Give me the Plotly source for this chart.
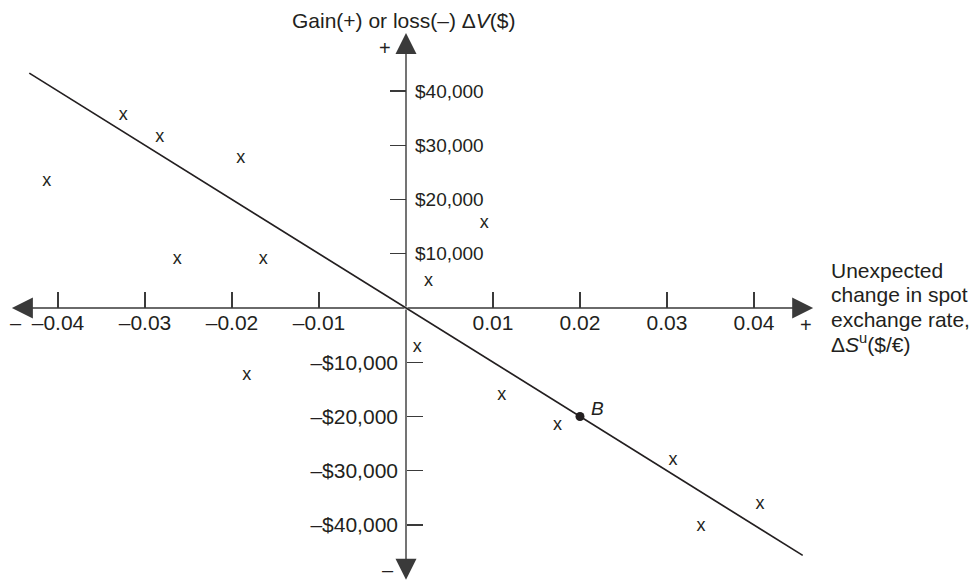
import plotly.graph_objects as go

# ---------------- data ----------------
obs_x = [-0.0413, -0.0325, -0.0283, -0.0190, -0.0263, -0.0164, -0.0183,
         0.0026, 0.0090, 0.0013, 0.0110, 0.0174, 0.0307, 0.0339, 0.0407]
obs_y = [23400, 35400, 31500, 27500, 9000, 9000, -12400,
         4800, 15500, -7200, -16200, -21600, -28200, -40200, -36200]

line_x = [-0.0433, 0.0456]
line_y = [43300, -45600]

b_x = [0.02]
b_y = [-20000]

x_tickvals = [-0.04, -0.03, -0.02, -0.01, 0.01, 0.02, 0.03, 0.04]
x_ticktext = ["–0.04", "–0.03", "–0.02", "–0.01", "0.01", "0.02", "0.03", "0.04"]

y_pos_tickvals = [10000, 20000, 30000, 40000]
y_pos_ticktext = ["$10,000", "$20,000", "$30,000", "$40,000"]
y_neg_tickvals = [-10000, -20000, -30000, -40000]
y_neg_ticktext = ["–$10,000", "–$20,000", "–$30,000", "–$40,000"]

# axis extents (arrow tips)
x_axis_left, x_axis_right = -0.0453, 0.0468
y_axis_top, y_axis_bottom = 50700, -50100

# ---------------- layout geometry ----------------
W, H = 973, 582
X0_PX, Y0_PX = 406, 308          # pixel of the origin
XSCALE = 8700.0                   # px per unit of x
YSCALE = 0.005425                 # px per unit of y
x_range = [-X0_PX / XSCALE, (W - X0_PX) / XSCALE]
y_range = [-(H - Y0_PX) / YSCALE, Y0_PX / YSCALE]

INK = "#231f20"
AXIS = "#3a3a3a"
FONT = "Liberation Sans, Arial, Helvetica, sans-serif"


def P(px, py):
    return px / W, 1 - py / H


fig = go.Figure()

# regression line (drawn on the second y axis so that axis gets rendered)
fig.add_trace(go.Scatter(
    x=line_x, y=line_y, mode="lines", yaxis="y2",
    line=dict(color=INK, width=1.7), hoverinfo="skip"))

fig.add_trace(go.Scatter(
    x=obs_x, y=obs_y, mode="text", text=["x"] * len(obs_x),
    textposition="middle center",
    textfont=dict(family=FONT, size=18, color=INK), hoverinfo="skip"))

fig.add_trace(go.Scatter(
    x=b_x, y=b_y, mode="markers",
    marker=dict(symbol="circle", size=9, color=INK), hoverinfo="skip"))

annotations = []

# axis arrows (shaft + head) from the origin
for tx, ty in [(x_axis_left, 0), (x_axis_right, 0), (0, y_axis_top), (0, y_axis_bottom)]:
    annotations.append(dict(
        x=tx, y=ty, ax=0, ay=0, xref="x", yref="y", axref="x", ayref="y",
        text="", showarrow=True, arrowhead=2, arrowsize=3.0, arrowwidth=1.4,
        arrowcolor=AXIS, standoff=0))


def txt(text, px, py, size, xanchor="center"):
    x, y = P(px, py)
    annotations.append(dict(
        x=x, y=y, xref="paper", yref="paper", text=text, showarrow=False,
        xanchor=xanchor, yanchor="middle", align="left",
        font=dict(family=FONT, size=size, color=INK)))


# axis titles
txt("Gain(+) or loss(–) Δ<i>V</i>($)", 404, 20.5, 21)
txt("Unexpected", 829, 270.5, 21, xanchor="left")
txt("change in spot", 829, 294.7, 21, xanchor="left")
txt("exchange rate,", 829, 319, 21, xanchor="left")
txt("Δ<i>S</i><sup>u</sup>($/€)", 829, 343.3, 21, xanchor="left")

# sign markers at the ends of the axes
txt("+", 385, 48, 20)
txt("–", 388, 570, 20)
txt("–", 16, 323, 20)
txt("+", 806, 325, 20)

# point label
txt("<i>B</i>", 597, 408, 19)

fig.update_layout(
    annotations=annotations,
    width=W, height=H,
    margin=dict(l=0, r=0, t=0, b=0, pad=0),
    paper_bgcolor="white", plot_bgcolor="white",
    showlegend=False,
    xaxis=dict(
        range=x_range, anchor="free", position=(H - Y0_PX) / H, side="bottom",
        tickvals=x_tickvals, ticktext=x_ticktext,
        ticks="inside", ticklen=16, tickwidth=1.3, tickcolor=AXIS,
        tickfont=dict(family=FONT, size=21, color=INK),
        showgrid=False, zeroline=False, showline=False, fixedrange=True),
    yaxis=dict(
        range=y_range, anchor="free", position=X0_PX / W, side="right",
        tickvals=y_pos_tickvals, ticktext=y_pos_ticktext,
        ticks="inside", ticklen=16, tickwidth=1.3, tickcolor=AXIS,
        ticklabelstandoff=8,
        tickfont=dict(family=FONT, size=19, color=INK),
        showgrid=False, zeroline=False, showline=False, fixedrange=True),
    yaxis2=dict(
        range=y_range, overlaying="y", anchor="free", position=X0_PX / W,
        side="left",
        tickvals=y_neg_tickvals, ticktext=y_neg_ticktext,
        ticks="inside", ticklen=16, tickwidth=1.3, tickcolor=AXIS,
        ticklabelstandoff=8,
        tickfont=dict(family=FONT, size=21, color=INK),
        showgrid=False, zeroline=False, showline=False, fixedrange=True),
)

fig.write_html("out.html",
               config={"displayModeBar": False, "staticPlot": True},
               post_script="document.body.style.margin='0';document.body.style.overflow='hidden';")
